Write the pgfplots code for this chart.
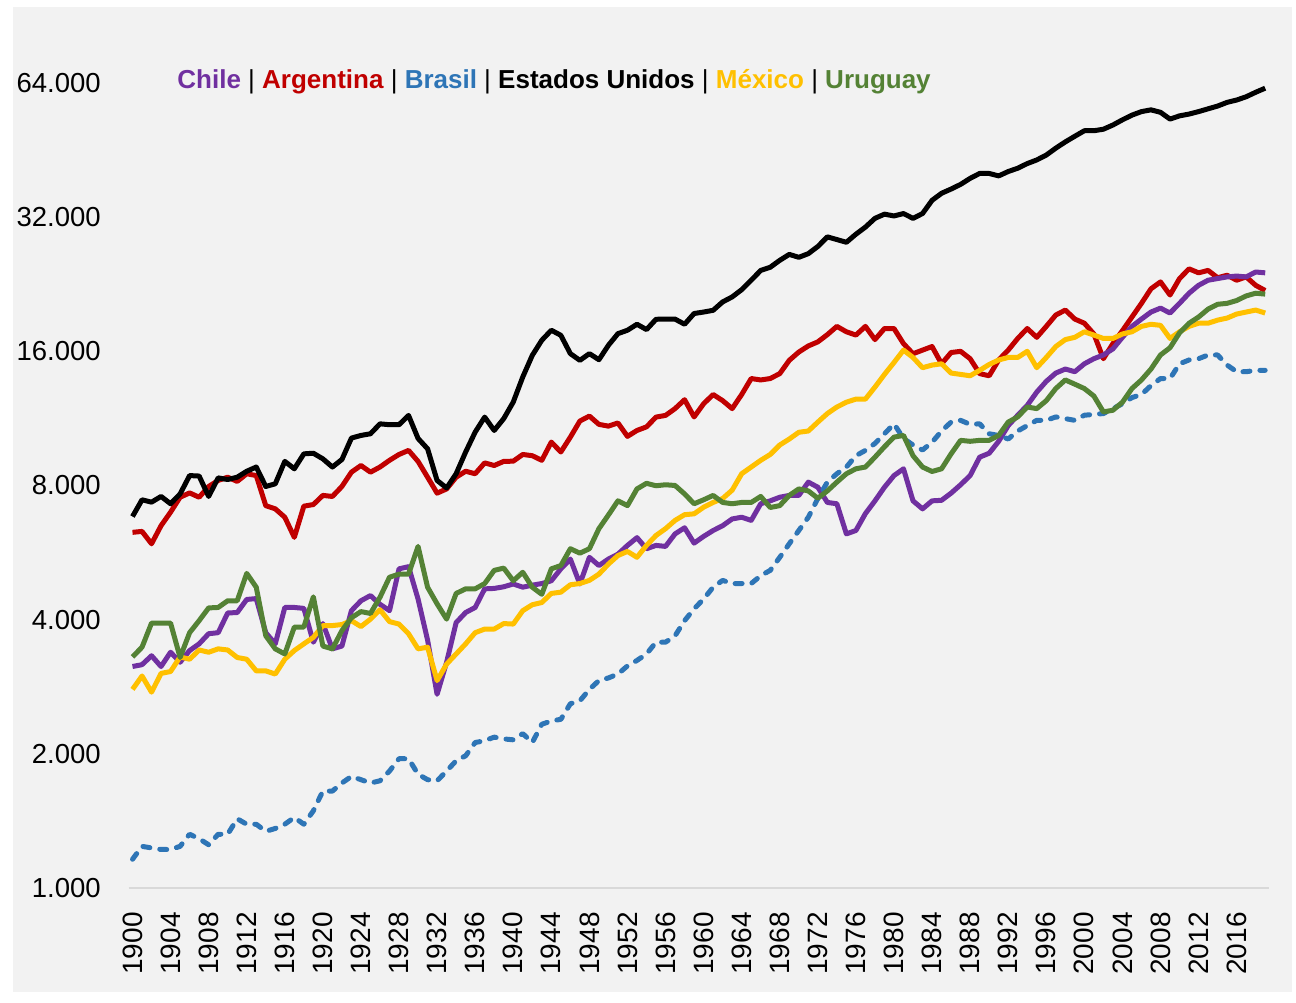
\documentclass[border=0pt]{standalone}
\usepackage{fontspec}
\setmainfont{Liberation Sans}
\usepackage{pgfplots}
\usepackage{pgfplotstable}
\pgfplotsset{compat=1.18}
\definecolor{bgc}{HTML}{F2F2F2}
\definecolor{axc}{HTML}{D9D9D9}
\definecolor{chile}{HTML}{7030A0}
\definecolor{arg}{HTML}{C00000}
\definecolor{bra}{HTML}{2E75B6}
\definecolor{usa}{HTML}{000000}
\definecolor{mex}{HTML}{FFC000}
\definecolor{uru}{HTML}{548235}
\pgfplotstableread{
year chile arg bra usa mex uru
1900 3140 6280 1160 6815 2790 3300
1901 3170 6310 1240 7430 2990 3470
1902 3320 5920 1230 7340 2750 3930
1903 3140 6500 1220 7560 3030 3930
1904 3380 6970 1220 7280 3060 3930
1905 3210 7530 1240 7660 3300 3290
1906 3410 7700 1320 8420 3260 3740
1907 3530 7530 1290 8400 3420 3980
1908 3720 7960 1250 7560 3380 4250
1909 3740 8210 1320 8320 3440 4260
1910 4140 8350 1320 8250 3420 4410
1911 4150 8170 1430 8350 3290 4410
1912 4440 8500 1390 8610 3260 5080
1913 4460 8420 1390 8800 3070 4730
1914 3740 7210 1340 7960 3070 3680
1915 3530 7090 1360 8070 3020 3440
1916 4260 6790 1390 9060 3260 3350
1917 4260 6120 1440 8720 3410 3850
1918 4240 7190 1390 9420 3530 3850
1919 3560 7250 1490 9450 3650 4500
1920 3920 7600 1650 9180 3880 3490
1921 3440 7560 1650 8800 3880 3440
1922 3490 7960 1720 9150 3900 3780
1923 4190 8570 1780 10220 3980 4040
1924 4410 8870 1750 10360 3860 4170
1925 4530 8570 1720 10450 4010 4130
1926 4330 8800 1740 11000 4210 4490
1927 4190 9110 1830 10950 3960 4980
1928 5200 9390 1950 10950 3910 5060
1929 5260 9590 1950 11490 3720 5060
1930 4450 9060 1800 10200 3440 5840
1931 3600 8350 1750 9670 3470 4730
1932 2720 7690 1740 8210 2920 4340
1933 3210 7860 1830 7900 3180 4010
1934 3940 8350 1930 8500 3350 4580
1935 4150 8610 1980 9510 3530 4690
1936 4260 8500 2120 10540 3740 4690
1937 4690 8990 2140 11390 3810 4820
1938 4700 8870 2180 10630 3810 5160
1939 4740 9060 2160 11300 3920 5220
1940 4810 9070 2150 12310 3910 4890
1941 4730 9390 2220 14010 4190 5110
1942 4780 9330 2120 15670 4320 4730
1943 4820 9110 2330 16940 4370 4560
1944 4890 10010 2370 17840 4580 5200
1945 5200 9510 2390 17380 4610 5290
1946 5470 10270 2590 15810 4790 5770
1947 4810 11160 2630 15270 4820 5640
1948 5520 11450 2790 15810 4900 5770
1949 5290 10970 2920 15320 5060 6400
1950 5470 10870 2960 16510 5330 6870
1951 5610 11050 3020 17530 5570 7390
1952 5870 10310 3150 17840 5690 7210
1953 6110 10630 3240 18400 5520 7860
1954 5770 10830 3350 17900 5870 8090
1955 5870 11390 3560 18880 6180 7990
1956 5840 11490 3560 18900 6400 8030
1957 6230 11900 3680 18900 6680 8000
1958 6430 12460 3980 18400 6880 7660
1959 5940 11400 4230 19450 6910 7280
1960 6150 12200 4450 19600 7150 7430
1961 6340 12800 4730 19780 7330 7600
1962 6500 12400 4900 20650 7480 7330
1963 6730 11900 4820 21190 7810 7280
1964 6790 12800 4820 22000 8500 7330
1965 6680 13900 4820 23100 8800 7330
1966 7280 13800 5020 24300 9110 7560
1967 7390 13900 5160 24700 9390 7140
1968 7530 14260 5520 25600 9860 7210
1969 7600 15270 5920 26400 10170 7600
1970 7600 15940 6340 26000 10530 7860
1971 8140 16450 6790 26500 10600 7780
1972 7930 16800 7480 27500 11100 7490
1973 7330 17440 8140 28900 11600 7780
1974 7280 18200 8500 28500 12000 8140
1975 6230 17700 8800 28100 12300 8500
1976 6340 17400 9330 29300 12500 8720
1977 6920 18200 9590 30400 12500 8800
1978 7390 17000 9940 31800 13300 9260
1979 7930 18000 10450 32500 14200 9770
1980 8420 18000 11000 32200 15100 10270
1981 8720 16650 10200 32600 16100 10360
1982 7390 15800 9860 31800 15500 9330
1983 7090 16100 9610 32600 14700 8800
1984 7390 16400 10000 34900 14900 8600
1985 7410 15000 10600 36200 15000 8720
1986 7690 15900 11100 37000 14300 9420
1987 8030 16000 11200 37900 14200 10100
1988 8420 15400 10970 39100 14100 10050
1989 9260 14260 11000 40100 14500 10100
1990 9450 14100 10450 40100 14950 10100
1991 10050 15300 10360 39600 15300 10360
1992 10900 16100 10170 40500 15500 11100
1993 11500 17100 10600 41200 15500 11400
1994 12100 18000 10900 42200 16000 12000
1995 12960 17200 11200 43000 14700 11900
1996 13700 18200 11200 44100 15500 12400
1997 14300 19300 11400 45700 16400 13200
1998 14600 19800 11300 47200 17000 13800
1999 14400 18900 11200 48600 17200 13500
2000 15000 18500 11500 50000 17700 13200
2001 15400 17500 11550 50000 17400 12700
2002 15700 15400 11600 50400 17100 11700
2003 16200 16650 11900 51500 17100 11800
2004 17200 17800 12200 52900 17500 12300
2005 18200 19100 12600 54200 17700 13200
2006 18900 20500 12800 55200 18200 13800
2007 19600 22100 13400 55700 18400 14600
2008 20000 22900 13900 55000 18300 15700
2009 19500 21400 13900 53100 17100 16300
2010 20500 23300 15000 54000 17700 17600
2011 21600 24500 15300 54500 18200 18500
2012 22500 24000 15400 55200 18500 19100
2013 23100 24300 15700 56000 18500 19900
2014 23300 23400 15700 56800 18800 20400
2015 23500 23700 14900 57900 19000 20500
2016 23600 23100 14400 58600 19400 20800
2017 23500 23500 14400 59600 19600 21300
2018 24100 22500 14500 61000 19800 21600
2019 24000 21900 14500 62300 19500 21500
}\data
\begin{document}
\begin{tikzpicture}
\fill[white] (-64.35pt,-57pt) rectangle (583.65pt,444pt);
\fill[bgc] (-57.85pt,-52pt) rectangle (581.65pt,440.5pt);
\begin{axis}[
  at={(0,0)}, anchor=south west,
  scale only axis, width=570.15pt, height=402.5pt,
  xmin=1899.6, xmax=2019.4,
  ymode=log, log basis y=2, ymin=1000, ymax=64000,
  axis lines*=left,
  x axis line style={draw=axc, line width=1pt},
  y axis line style={draw=none},
  major tick length=0pt,
  tick style={draw=none},
  xtick={1900,1904,...,2016},
  ytick={1000,2000,4000,8000,16000,32000,64000},
  yticklabels={1.000,2.000,4.000,8.000,16.000,32.000,64.000},
  /pgf/number format/assume math mode=true,
  /pgf/number format/1000 sep={},
  xticklabel shift=12pt,
  xticklabel style={rotate=90, anchor=east, inner sep=0pt, font=\fontsize{14}{15}\selectfont},
  yticklabel style={anchor=east, inner sep=0pt, xshift=-13.8pt, font=\fontsize{13.75}{15}\selectfont},
  clip=false,
  line join=round,
]
\addplot[arg, line width=2.5pt] table[x=year,y=arg]{\data};
\addplot[chile, line width=2.5pt] table[x=year,y=chile]{\data};
\addplot[bra, line width=2.5pt, line cap=round, dash pattern=on 3.5pt off 5pt] table[x=year,y=bra]{\data};
\addplot[usa, line width=2.5pt] table[x=year,y=usa]{\data};
\addplot[mex, line width=2.5pt] table[x=year,y=mex]{\data};
\addplot[uru, line width=2.5pt] table[x=year,y=uru]{\data};
\node[anchor=west, inner sep=0pt, font=\fontsize{13}{15}\selectfont] at (rel axis cs:0.0424,1.001)
 {\textbf{\color{chile}Chile} | \textbf{\color{arg}Argentina} | \textbf{\color{bra}Brasil} | \textbf{Estados Unidos} | \textbf{\color{mex}México} | \textbf{\color{uru}Uruguay}};
\end{axis}
\end{tikzpicture}
\end{document}
